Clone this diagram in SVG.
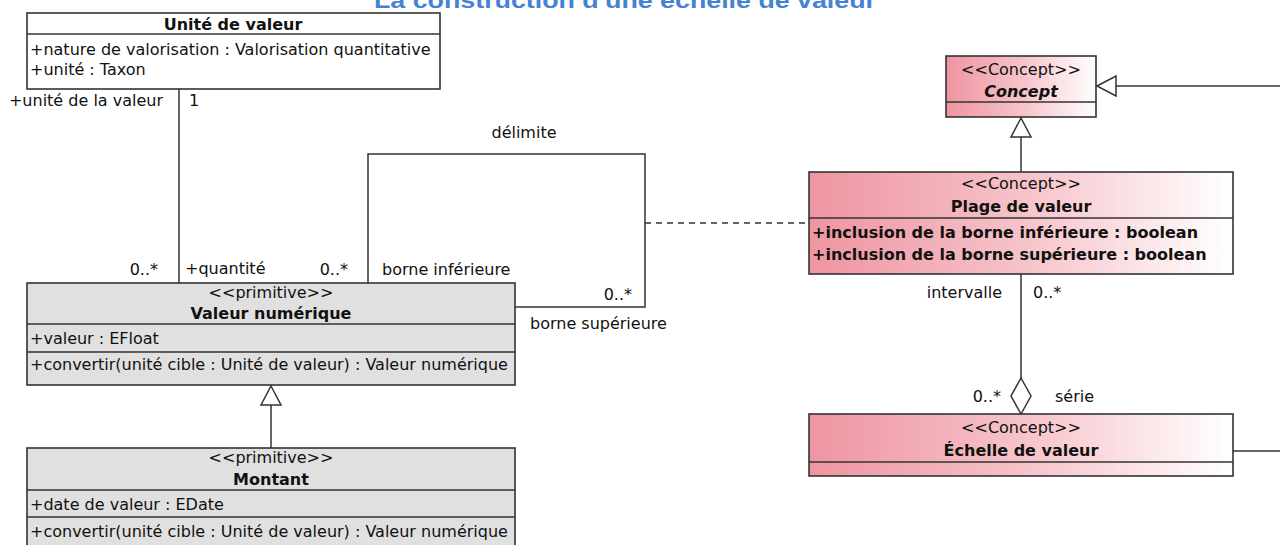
<svg xmlns="http://www.w3.org/2000/svg" width="1280" height="545" viewBox="0 0 1280 545">
<defs>
  <linearGradient id="pink" x1="0" y1="0" x2="1" y2="0">
    <stop offset="0" stop-color="#EE95A1"/>
    <stop offset="0.5" stop-color="#F6C2C9"/>
    <stop offset="1" stop-color="#FFFFFF"/>
  </linearGradient>
</defs>
<style>
  text { font-family: "DejaVu Sans", "Liberation Sans", sans-serif; font-size: 16px; fill: #111; }
  .b { font-weight: bold; }
  .bi { font-weight: bold; font-style: italic; }
  .m { text-anchor: middle; }
  .e { text-anchor: end; }
  .box { stroke: #333; stroke-width: 1.6; }
  .gray { fill: #E0E0E0; }
  .white { fill: #FFFFFF; }
  .pinkf { fill: url(#pink); }
  .sep { stroke: #333; stroke-width: 1.6; fill: none; }
  .ln { stroke: #333; stroke-width: 1.5; fill: none; }
  .dash { stroke: #333; stroke-width: 1.5; fill: none; stroke-dasharray: 6 5; }
  .head { fill: #fff; stroke: #333; stroke-width: 1.5; }
  .title { font-family: "Liberation Sans", "DejaVu Sans", sans-serif; font-size: 22px; font-weight: bold; fill: #4583D2; }
</style>
<rect width="1280" height="545" fill="#fff"/>
<text class="title" x="374" y="8" textLength="502" lengthAdjust="spacingAndGlyphs">La construction d'une échelle de valeur</text>

<g id="connectors">
  <!-- Unité de valeur to Valeur numérique -->
  <line class="ln" x1="179" y1="89" x2="179" y2="283"/>
  <!-- délimite self-association -->
  <polyline class="ln" points="368,283 368,154 645,154 645,307 515,307"/>
  <!-- association class dashed -->
  <line class="dash" x1="645" y1="223" x2="809" y2="223"/>
  <!-- generalization Montant -> Valeur numérique -->
  <line class="ln" x1="271" y1="405" x2="271" y2="448"/>
  <polygon class="head" points="271,386 261,405 281,405"/>
  <!-- generalization Plage -> Concept -->
  <line class="ln" x1="1021" y1="137" x2="1021" y2="172"/>
  <polygon class="head" points="1021,118 1011,137 1031,137"/>
  <!-- generalization from right to Concept -->
  <line class="ln" x1="1116" y1="86" x2="1280" y2="86"/>
  <polygon class="head" points="1097,86 1116,76 1116,96"/>
  <!-- aggregation Échelle - Plage -->
  <line class="ln" x1="1021" y1="274" x2="1021" y2="378"/>
  <polygon class="head" points="1021,378 1031,396 1021,414 1011,396"/>
  <!-- Échelle to right -->
  <line class="ln" x1="1233" y1="451" x2="1280" y2="451"/>

  <text class="e" x="163" y="106">+unité de la valeur</text>
  <text x="189" y="106">1</text>
  <text class="e" x="158" y="275">0..*</text>
  <text x="185" y="274">+quantité</text>
  <text class="e" x="348" y="275">0..*</text>
  <text x="382" y="275">borne inférieure</text>
  <text class="m" x="524" y="138">délimite</text>
  <text class="e" x="632" y="300">0..*</text>
  <text x="530" y="329">borne supérieure</text>
  <text class="e" x="1002" y="298">intervalle</text>
  <text x="1033" y="298">0..*</text>
  <text class="e" x="1001" y="402">0..*</text>
  <text x="1055" y="402">série</text>
</g>

<g id="unite-de-valeur">
  <rect class="box white" x="27" y="13" width="413" height="76"/>
  <line class="sep" x1="27" y1="34" x2="440" y2="34"/>
  <text class="b m" x="233" y="30">Unité de valeur</text>
  <text x="30" y="55">+nature de valorisation : Valorisation quantitative</text>
  <text x="30" y="75">+unité : Taxon</text>
</g>

<g id="valeur-numerique">
  <rect class="box gray" x="27" y="283" width="488" height="102"/>
  <line class="sep" x1="27" y1="324" x2="515" y2="324"/>
  <line class="sep" x1="27" y1="352" x2="515" y2="352"/>
  <text class="m" x="271" y="298">&lt;&lt;primitive&gt;&gt;</text>
  <text class="b m" x="271" y="319">Valeur numérique</text>
  <text x="30" y="344">+valeur : EFloat</text>
  <text x="30" y="370">+convertir(unité cible : Unité de valeur) : Valeur numérique</text>
</g>

<g id="montant">
  <rect class="box gray" x="27" y="448" width="488" height="104"/>
  <line class="sep" x1="27" y1="490" x2="515" y2="490"/>
  <line class="sep" x1="27" y1="517" x2="515" y2="517"/>
  <text class="m" x="271" y="463">&lt;&lt;primitive&gt;&gt;</text>
  <text class="b m" x="271" y="485">Montant</text>
  <text x="30" y="510">+date de valeur : EDate</text>
  <text x="30" y="537">+convertir(unité cible : Unité de valeur) : Valeur numérique</text>
</g>

<g id="concept">
  <rect class="box pinkf" x="946" y="56" width="150" height="61"/>
  <line class="sep" x1="946" y1="102" x2="1096" y2="102"/>
  <text class="m" x="1021" y="75">&lt;&lt;Concept&gt;&gt;</text>
  <text class="bi m" x="1021" y="97">Concept</text>
</g>

<g id="plage-de-valeur">
  <rect class="box pinkf" x="809" y="172" width="424" height="102"/>
  <line class="sep" x1="809" y1="218" x2="1233" y2="218"/>
  <text class="m" x="1021" y="189">&lt;&lt;Concept&gt;&gt;</text>
  <text class="b m" x="1021" y="212">Plage de valeur</text>
  <text class="b" x="812" y="238">+inclusion de la borne inférieure : boolean</text>
  <text class="b" x="812" y="260">+inclusion de la borne supérieure : boolean</text>
</g>

<g id="echelle-de-valeur">
  <rect class="box pinkf" x="809" y="414" width="424" height="62"/>
  <line class="sep" x1="809" y1="462" x2="1233" y2="462"/>
  <text class="m" x="1021" y="433">&lt;&lt;Concept&gt;&gt;</text>
  <text class="b m" x="1021" y="456">Échelle de valeur</text>
</g>
</svg>
